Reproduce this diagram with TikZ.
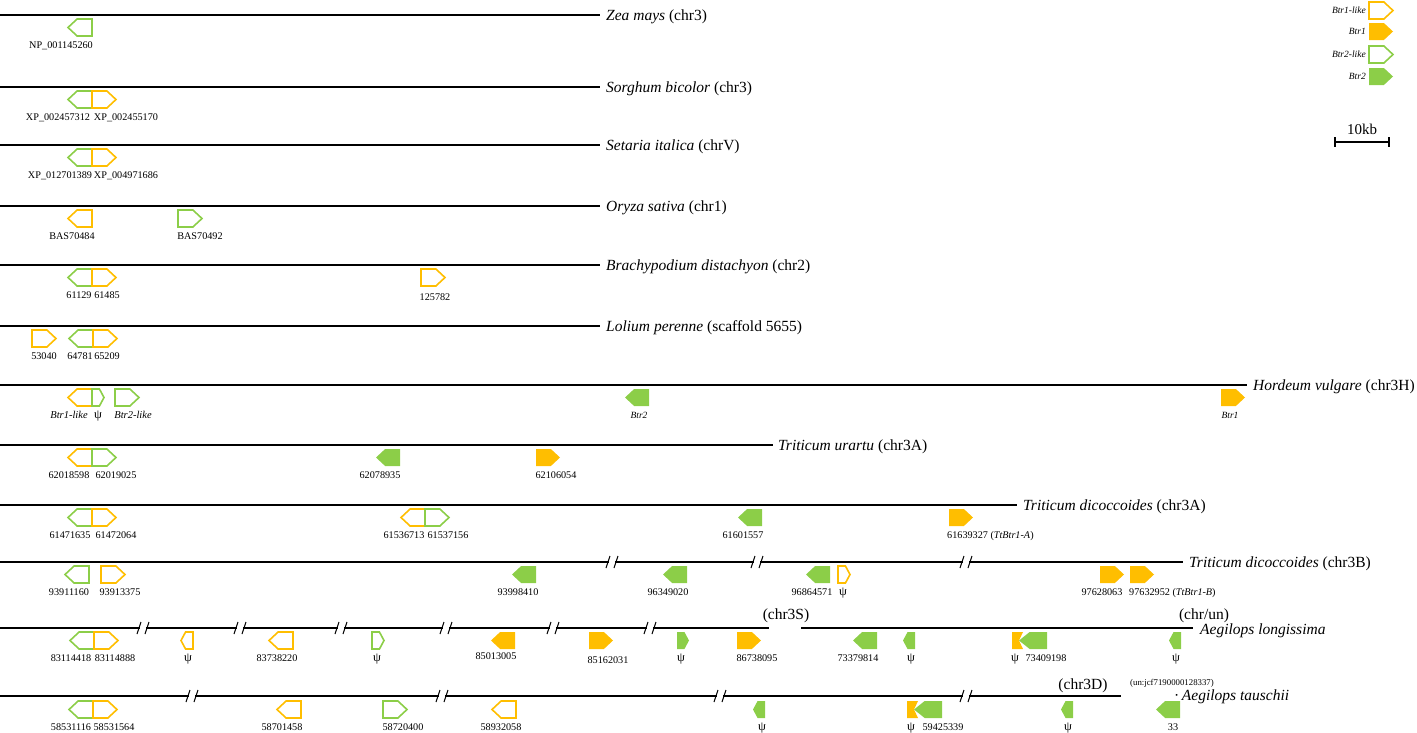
\documentclass[tikz,border=0pt]{standalone}
\usepackage{fontspec}
\setmainfont{Liberation Serif}
\definecolor{orng}{RGB}{255,190,0}
\definecolor{grn}{RGB}{140,206,72}
\tikzset{
 chrom/.style={line width=1.9pt, black},
 ol/.style={draw=orng, line width=1.6pt, fill=white, line join=miter},
 gl/.style={draw=grn, line width=1.6pt, fill=white, line join=miter},
 of/.style={fill=orng},
 gf/.style={fill=grn},
 lab/.style={font=\fontsize{10.2}{12}\selectfont, inner sep=0pt, anchor=base},
 psi/.style={font=\fontsize{12.5}{14}\selectfont, inner sep=0pt, anchor=base},
 ilab/.style={font=\fontsize{9.5}{11}\selectfont\itshape, inner sep=0pt, anchor=base},
 hlab/.style={font=\fontsize{10.5}{12}\selectfont\itshape, inner sep=0pt, anchor=base},
 sp/.style={font=\fontsize{15.5}{18}\selectfont, inner sep=0pt, anchor=base west},
 brkline/.style={line width=1pt, black},
}
\newcommand\geneR[4]{\path[#4] (#1,#2) -- ++({0.62*#3},0) -- ++({0.38*#3},8.5) -- ++({-0.38*#3},8.5) -- ++({-0.62*#3},0) -- cycle;}
\newcommand\geneL[4]{\path[#4] (#1,#2+8.5) -- ++({0.38*#3},-8.5) -- ++({0.62*#3},0) -- ++(0,17) -- ++({-0.62*#3},0) -- cycle;}
\newcommand\chrbreak[2]{\fill[white] (#1-3,#2-3) rectangle (#1+3,#2+3); \draw[brkline] (#1-6,#2+6) -- (#1-2,#2-6) (#1+2,#2+6) -- (#1+6,#2-6);}
% orange notched piece: x0, x1, top
\newcommand\orgnotch[3]{\path[of] (#1,#3) -- (#2,#3) -- (#2-4,#3+8.5) -- (#2,#3+17) -- (#1,#3+17) -- cycle;}
\begin{document}
\begin{tikzpicture}[x=1pt,y=-1pt]
\useasboundingbox (0,0) rectangle (1417,732);

% ---------- Row 1: Zea mays
\draw[chrom] (0,15) coordinate (a1) -- (600,15) coordinate (b1);
\node[sp] (s1) at (606,20) {\textit{Zea mays} (chr3)};
\geneL{68}{19}{24}{gl}
\node[lab] (l1a) at (61,48) {NP\_001145260};

% ---------- Row 2: Sorghum
\draw[chrom] (0,87) coordinate (a2) -- (600,87) coordinate (b2);
\node[sp] (s2) at (606,92) {\textit{Sorghum bicolor} (chr3)};
\geneL{68}{91}{24}{gl}
\geneR{92}{91}{24}{ol}
\node[lab] (l2a) at (58,120) {XP\_002457312};
\node[lab] (l2b) at (126,120) {XP\_002455170};

% ---------- Row 3: Setaria
\draw[chrom] (0,145) coordinate (a3) -- (600,145) coordinate (b3);
\node[sp] (s3) at (606,150) {\textit{Setaria italica} (chrV)};
\geneL{68}{149}{24}{gl}
\geneR{92}{149}{24}{ol}
\node[lab] (l3a) at (60,178) {XP\_012701389};
\node[lab] (l3b) at (126,178) {XP\_004971686};

% ---------- Row 4: Oryza
\draw[chrom] (0,206) coordinate (a4) -- (600,206) coordinate (b4);
\node[sp] (s4) at (606,211) {\textit{Oryza sativa} (chr1)};
\geneL{68}{210}{24}{ol}
\node[lab] (l4a) at (72,239) {BAS70484};
\geneR{178}{210}{24}{gl}
\node[lab] (l4b) at (200,239) {BAS70492};

% ---------- Row 5: Brachypodium
\draw[chrom] (0,265) coordinate (a5) -- (600,265) coordinate (b5);
\node[sp] (s5) at (606,270) {\textit{Brachypodium distachyon} (chr2)};
\geneL{68}{269}{24}{gl}
\geneR{92}{269}{24}{ol}
\node[lab] (l5a) at (79,298) {61129};
\node[lab] (l5b) at (107,298) {61485};
\geneR{421}{269}{24}{ol}
\node[lab] (l5c) at (435,300) {125782};

% ---------- Row 6: Lolium
\draw[chrom] (0,326) coordinate (a6) -- (600,326) coordinate (b6);
\node[sp] (s6) at (606,331) {\textit{Lolium perenne} (scaffold 5655)};
\geneR{32}{330}{24}{ol}
\node[lab] (l6a) at (44,359) {53040};
\geneL{69}{330}{24}{gl}
\geneR{93}{330}{24}{ol}
\node[lab] (l6b) at (80,359) {64781};
\node[lab] (l6c) at (107,359) {65209};

% ---------- Row 7: Hordeum
\draw[chrom] (0,385) coordinate (a7) -- (1247,385) coordinate (b7);
\node[sp] (s7) at (1253,390) {\textit{Hordeum vulgare} (chr3H)};
\geneL{68}{389}{24}{ol}
\geneR{92}{389}{12}{gl}
\geneR{115}{389}{24}{gl}
\node[hlab] (l7a) at (69,418) {Btr1-like};
\node[psi] (l7b) at (98,418) {ψ};
\node[hlab] (l7c) at (133,418) {Btr2-like};
\geneL{625}{389}{24}{gf}
\node[ilab] (l7d) at (639,418) {Btr2};
\geneR{1221}{389}{24}{of}
\node[ilab] (l7e) at (1230,418) {Btr1};

% ---------- Row 8: Triticum urartu
\draw[chrom] (0,445) coordinate (a8) -- (773,445) coordinate (b8);
\node[sp] (s8) at (778,450) {\textit{Triticum urartu} (chr3A)};
\geneL{68}{449}{24}{ol}
\geneR{92}{449}{24}{gl}
\node[lab] (l8a) at (69,478) {62018598};
\node[lab] (l8b) at (116,478) {62019025};
\geneL{376}{449}{24}{gf}
\node[lab] (l8c) at (380,478) {62078935};
\geneR{536}{449}{24}{of}
\node[lab] (l8d) at (556,478) {62106054};

% ---------- Row 9: Triticum dicoccoides (chr3A)
\draw[chrom] (0,505) coordinate (a9) -- (1017,505) coordinate (b9);
\node[sp] (s9) at (1023,510) {\textit{Triticum dicoccoides} (chr3A)};
\geneL{68}{509}{24}{gl}
\geneR{92}{509}{24}{ol}
\node[lab] (l9a) at (70,538) {61471635};
\node[lab] (l9b) at (116,538) {61472064};
\geneL{401}{509}{24}{ol}
\geneR{425}{509}{24}{gl}
\node[lab] (l9c) at (404,538) {61536713};
\node[lab] (l9d) at (448,538) {61537156};
\geneL{738}{509}{24}{gf}
\node[lab] (l9e) at (743,538) {61601557};
\geneR{949}{509}{24}{of}
\node[lab, anchor=base west] (l9f) at (947,538) {61639327 (\textit{TtBtr1-A})};

% ---------- Row 10: Triticum dicoccoides (chr3B)
\draw[chrom] (0,562) coordinate (a10) -- (1183,562) coordinate (b10);
\chrbreak{612}{562}
\chrbreak{757}{562}
\chrbreak{966}{562}
\node[sp] (s10) at (1189,567) {\textit{Triticum dicoccoides} (chr3B)};
\geneL{65}{566}{24}{gl}
\node[lab] (l10a) at (69,595) {93911160};
\geneR{101}{566}{24}{ol}
\node[lab] (l10b) at (120,595) {93913375};
\geneL{512}{566}{24}{gf}
\node[lab] (l10c) at (518,595) {93998410};
\geneL{663}{566}{24}{gf}
\node[lab] (l10d) at (668,595) {96349020};
\geneL{806}{566}{24}{gf}
\node[lab] (l10e) at (812,595) {96864571};
\geneR{838}{566}{12}{ol}
\node[psi] (l10f) at (843,595) {ψ};
\geneR{1100}{566}{24}{of}
\node[lab] (l10g) at (1102,595) {97628063};
\geneR{1130}{566}{24}{of}
\node[lab, anchor=base west] (l10h) at (1129,595) {97632952 (\textit{TtBtr1-B})};

% ---------- Row 11: Aegilops longissima
\draw[chrom] (0,628) coordinate (a11) -- (769,628) coordinate (b11);
\draw[chrom] (801,628) coordinate (c11) -- (1193,628) coordinate (d11);
\chrbreak{143}{628}
\chrbreak{240}{628}
\chrbreak{341}{628}
\chrbreak{446}{628}
\chrbreak{553}{628}
\chrbreak{650}{628}
\node[sp, anchor=base] (s11a) at (786,619) {(chr3S)};
\node[sp, anchor=base] (s11b) at (1204,619) {(chr/un)};
\node[sp] (s11c) at (1200,634) {\textit{Aegilops longissima}};
\geneL{70}{632}{24}{gl}
\geneR{94}{632}{24}{ol}
\node[lab] (l11a) at (71,661) {83114418};
\node[lab] (l11b) at (115,661) {83114888};
\geneL{181}{632}{12}{ol}
\node[psi] (l11c) at (188,661) {ψ};
\geneL{269}{632}{24}{ol}
\node[lab] (l11d) at (277,661) {83738220};
\geneR{372}{632}{12}{gl}
\node[psi] (l11e) at (377,661) {ψ};
\geneL{491}{632}{24}{of}
\node[lab] (l11f) at (496,659) {85013005};
\geneR{589}{632}{24}{of}
\node[lab] (l11g) at (608,663) {85162031};
\geneR{677}{632}{12}{gf}
\node[psi] (l11h) at (681,661) {ψ};
\geneR{737}{632}{24}{of}
\node[lab] (l11i) at (757,661) {86738095};
\geneL{853}{632}{24}{gf}
\node[lab] (l11j) at (858,661) {73379814};
\geneL{903}{632}{12}{gf}
\node[psi] (l11k) at (911,661) {ψ};
\orgnotch{1012}{1023}{632}
\geneL{1019}{632}{28}{gf}
\node[psi] (l11l) at (1015,661) {ψ};
\node[lab] (l11m) at (1046,661) {73409198};
\geneL{1169}{632}{12}{gf}
\node[psi] (l11n) at (1176,661) {ψ};

% ---------- Row 12: Aegilops tauschii
\draw[chrom] (0,696) coordinate (a12) -- (1121,696) coordinate (b12);
\chrbreak{192}{696}
\chrbreak{442}{696}
\chrbreak{720}{696}
\chrbreak{966}{696}
\node[sp, anchor=base] (s12a) at (1083,689) {(chr3D)};
\node[font=\fontsize{8.8}{10}\selectfont, inner sep=0pt, anchor=base west] (s12b) at (1130,685) {(un:jcf7190000128337)};
\node[sp] (s12c) at (1174,700) {·\,\textit{Aegilops tauschii}};
\geneL{69}{701}{24}{gl}
\geneR{93}{701}{24}{ol}
\node[lab] (l12a) at (71,730) {58531116};
\node[lab] (l12b) at (114,730) {58531564};
\geneL{277}{701}{24}{ol}
\node[lab] (l12c) at (282,730) {58701458};
\geneR{383}{701}{24}{gl}
\node[lab] (l12d) at (403,730) {58720400};
\geneL{492}{701}{24}{ol}
\node[lab] (l12e) at (501,730) {58932058};
\geneL{753}{701}{12}{gf}
\node[psi] (l12f) at (762,730) {ψ};
\orgnotch{907}{918}{701}
\geneL{914}{701}{28}{gf}
\node[psi] (l12g) at (911,730) {ψ};
\node[lab] (l12h) at (943,730) {59425339};
\geneL{1061}{701}{12}{gf}
\node[psi] (l12i) at (1068,730) {ψ};
\geneL{1156}{701}{24}{gf}
\node[lab] (l12j) at (1173,730) {33};

% ---------- Legend
\geneR{1369}{2}{24}{ol}
\node[ilab, anchor=base east] (k1) at (1366,13) {Btr1-like};
\geneR{1369}{23}{24}{of}
\node[ilab, anchor=base east] (k2) at (1366,34) {Btr1};
\geneR{1369}{46}{24}{gl}
\node[ilab, anchor=base east] (k3) at (1366,57) {Btr2-like};
\geneR{1369}{68}{24}{gf}
\node[ilab, anchor=base east] (k4) at (1366,79) {Btr2};

% ---------- Scale bar
\draw[line width=1.6pt] (1335,142) coordinate (sb1) -- (1389,142) coordinate (sb2);
\draw[line width=1.6pt] (1335,137) -- (1335,147) (1389,137) -- (1389,147);
\node[font=\fontsize{15}{18}\selectfont, inner sep=0pt, anchor=base] (sbl) at (1362,134) {10kb};
\end{tikzpicture}
\end{document}
